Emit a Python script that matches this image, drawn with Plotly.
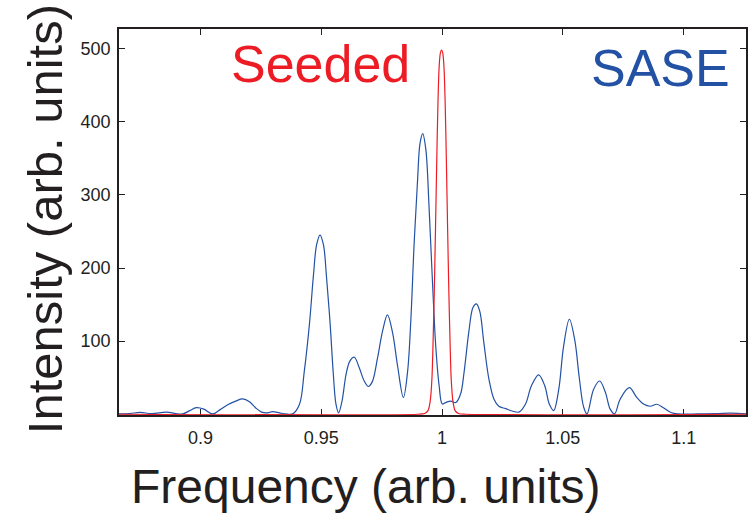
import plotly.graph_objects as go

# SASE spectrum
sase_freq = [0.8663, 0.8708, 0.8750, 0.8799, 0.8860, 0.8898, 0.8927, 0.8956, 0.8983, 0.9014,
             0.9051, 0.9080, 0.9113, 0.9146, 0.9175, 0.9203, 0.9228, 0.9253, 0.9278, 0.9298,
             0.9327, 0.9352, 0.9382, 0.9410, 0.9430, 0.9451, 0.9468, 0.9481, 0.9495, 0.9509,
             0.9522, 0.9537, 0.9550, 0.9561, 0.9572, 0.9586, 0.9603, 0.9619, 0.9637, 0.9657,
             0.9678, 0.9695, 0.9712, 0.9733, 0.9754, 0.9774, 0.9795, 0.9816, 0.9840, 0.9857,
             0.9871, 0.9884, 0.9898, 0.9909, 0.9920, 0.9933, 0.9946, 0.9960, 0.9974, 0.9988,
             1.0001, 1.0015, 1.0036, 1.0057, 1.0077, 1.0091, 1.0111, 1.0128, 1.0142, 1.0156,
             1.0173, 1.0194, 1.0215, 1.0235, 1.0263, 1.0290, 1.0318, 1.0345, 1.0370, 1.0400,
             1.0425, 1.0444, 1.0462, 1.0483, 1.0503, 1.0527, 1.0549, 1.0568, 1.0586, 1.0600,
             1.0627, 1.0652, 1.0676, 1.0696, 1.0714, 1.0737, 1.0775, 1.0806, 1.0834, 1.0861,
             1.0889, 1.0916, 1.0950, 1.0978, 1.1060, 1.1142, 1.1197, 1.1258]
sase_int = [0.5, 1, 2.5, 1, 3, 1, 0.5, 5, 9, 7,
            0.5, 6, 13, 18, 21, 17, 9, 3, 2, 3.5,
            2, 0.5, 0.5, 13.7, 59, 123, 191, 232, 245, 232,
            187, 123, 55, 14, 2, 18, 55, 73, 78, 64,
            45.5, 38, 45, 77, 114, 136, 112, 66, 23, 57,
            130, 230, 316, 371, 384, 362, 285, 184, 93, 39,
            14, 16, 18, 16, 28, 57, 113, 146, 151, 141,
            98, 48, 20.5, 11, 7.7, 4.5, 3, 13.7, 39, 54,
            39, 14, 5, 34, 93, 130, 102, 50, 10, 0.5,
            34, 45.5, 30, 7, 0.5, 20.5, 36.4, 23, 14, 11,
            13.7, 9, 2, 0.5, 0.5, 1, 1.5, 0.5]

# Seeded spectrum
seed_freq = [0.8663, 0.9900, 0.9928, 0.9942, 0.9951, 0.9958, 0.9963, 0.9968, 0.9973, 0.9978,
             0.9983, 0.9988, 0.9993, 0.9998, 1.0003, 1.0008, 1.0013, 1.0018, 1.0023, 1.0028,
             1.0033, 1.0038, 1.0045, 1.0054, 1.0068, 1.0100, 1.1258]
seed_int = [0, 0, 1, 5, 18, 48, 100, 170, 255, 345,
            425, 475, 494, 498, 494, 475, 425, 345, 255, 170,
            100, 48, 18, 5, 1, 0, 0]

x_ticks = [0.9, 0.95, 1.0, 1.05, 1.1]
x_ticktext = ["0.9", "0.95", "1", "1.05", "1.1"]
y_ticks = [100, 200, 300, 400, 500]

FONT = "Arial, Liberation Sans, Helvetica, sans-serif"
BLUE = "#2352A5"
RED = "#ED1C24"
DARK = "#231F20"

fig = go.Figure()
fig.add_trace(go.Scatter(x=sase_freq, y=sase_int, mode="lines",
                         line=dict(color=BLUE, width=1.2, shape="spline", smoothing=1.0),
                         showlegend=False, hoverinfo="skip"))
fig.add_trace(go.Scatter(x=seed_freq, y=seed_int, mode="lines",
                         line=dict(color=RED, width=1.2, shape="spline", smoothing=0.8),
                         showlegend=False, hoverinfo="skip"))

axis_common = dict(showgrid=False, zeroline=False, showline=True, linecolor=DARK, linewidth=1.5,
                   mirror="ticks", ticks="inside", ticklen=6, tickwidth=1, tickcolor=DARK,
                   tickfont=dict(family=FONT, size=18, color=DARK), layer="below traces")

fig.update_xaxes(range=[0.8663, 1.1258], tickmode="array", tickvals=x_ticks, ticktext=x_ticktext,
                 ticklabelstandoff=6, **axis_common)
fig.update_yaxes(range=[-1, 527], tickmode="array", tickvals=y_ticks,
                 ticklabelstandoff=3, **axis_common)

W, H = 749, 516
L, R, T, B = 119, 1, 29, 101
pw, ph = W - L - R, H - T - B

def px(xp):
    return (xp - L) / pw

def py(yp):
    return (H - B - yp) / ph

annotations = [
    dict(text="Seeded", x=px(229), y=py(64), xanchor="left", yanchor="middle",
         font=dict(family=FONT, size=52, color=RED)),
    dict(text="SASE", x=px(734), y=py(67.5), xanchor="right", yanchor="middle",
         font=dict(family=FONT, size=52, color=BLUE)),
    dict(text="Frequency (arb. units)", x=px(366.5), y=py(486), xanchor="center", yanchor="middle",
         font=dict(family=FONT, size=48, color=DARK)),
    dict(text="Intensity (arb. units)", x=px(45), y=py(219), xanchor="center", yanchor="middle",
         textangle=-90, font=dict(family=FONT, size=49, color=DARK)),
]
for a in annotations:
    a.update(xref="paper", yref="paper", showarrow=False)

fig.update_layout(width=W, height=H, margin=dict(l=L, r=R, t=T, b=B),
                  paper_bgcolor="white", plot_bgcolor="white", annotations=annotations)

fig.write_html("out.html")
